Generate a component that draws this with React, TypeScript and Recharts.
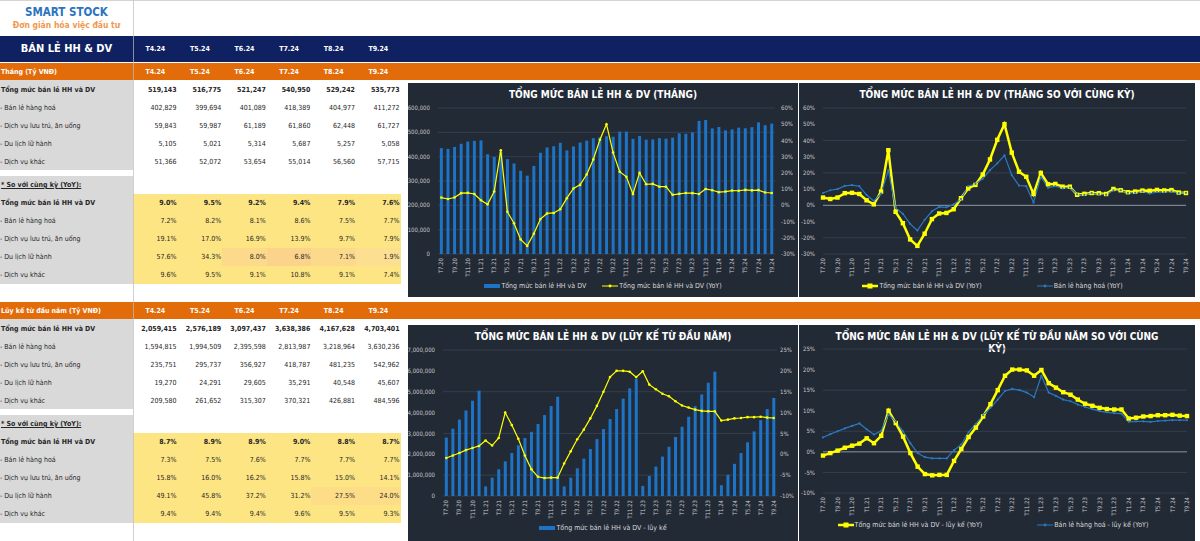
import React from 'react';
import {
  ComposedChart,
  LineChart,
  Bar,
  Line,
  XAxis,
  YAxis,
  CartesianGrid,
  Legend,
  ReferenceLine
} from 'recharts';

const FONT = "'DejaVu Sans Condensed', 'Liberation Sans', Arial, sans-serif";

// ---- chart data (T7.20 .. T9.24) ----
const months = [
  'T7.20', 'T8.20', 'T9.20', 'T10.20', 'T11.20', 'T12.20',
  'T1.21', 'T2.21', 'T3.21', 'T4.21', 'T5.21', 'T6.21', 'T7.21', 'T8.21', 'T9.21', 'T10.21', 'T11.21', 'T12.21',
  'T1.22', 'T2.22', 'T3.22', 'T4.22', 'T5.22', 'T6.22', 'T7.22', 'T8.22', 'T9.22', 'T10.22', 'T11.22', 'T12.22',
  'T1.23', 'T2.23', 'T3.23', 'T4.23', 'T5.23', 'T6.23', 'T7.23', 'T8.23', 'T9.23', 'T10.23', 'T11.23', 'T12.23',
  'T1.24', 'T2.24', 'T3.24', 'T4.24', 'T5.24', 'T6.24', 'T7.24', 'T8.24', 'T9.24'
];

const monthlyTotal = [
  435000, 432000, 440000, 453000, 462000, 465000,
  467000, 410000, 399000, 420000, 390000, 372000, 342000, 322000, 362000, 416000, 438000, 443000,
  457000, 426000, 442000, 458000, 466000, 476000, 480000, 484000, 482000, 503000, 503000, 473000,
  485000, 470000, 471000, 476000, 474000, 478000, 496000, 494000, 500000, 547000, 551000, 516000,
  522000, 508000, 512000, 519143, 516775, 521247, 540950, 529242, 535773
];

const monthlyTotalYoY = [
  4.8, 3.9, 4.8, 7.5, 7.7, 7.0,
  3.1, 0.6, 8.5, 34.0, -4.0, -11.0, -21.0, -25.0, -17.5, -8.5, -5.0, -4.7,
  -2.4, 4.4, 10.4, 12.6, 19.0, 28.3, 40.4, 50.0, 32.5, 20.7, 17.6, 7.0,
  20.0, 13.0, 13.2, 11.5, 11.5, 6.5, 7.1, 7.6, 7.5, 7.0, 10.1, 9.3,
  8.1, 8.5, 9.1, 9.0, 9.5, 9.2, 9.4, 7.9, 7.6
];

const monthlyGoodsYoY = [
  7.6, 9.3, 10.0, 12.0, 12.5, 11.8,
  6.4, 2.7, 7.2, 21.7, -1.7, -5.2, -11.4, -15.5, -8.9, -3.7, -1.0, -1.2,
  0.6, 3.9, 11.8, 13.2, 16.4, 21.7, 25.9, 30.8, 18.6, 12.2, 11.8, 1.7,
  17.6, 10.8, 11.8, 10.4, 11.0, 6.8, 6.4, 7.5, 7.0, 6.6, 9.3, 9.3,
  7.7, 7.7, 8.5, 7.2, 8.2, 8.1, 8.6, 7.5, 7.7
];

const ytdTotal = [
  2800000, 3230000, 3660000, 4100000, 4570000, 5050000,
  460000, 880000, 1280000, 1660000, 2060000, 2430000, 2780000, 3080000, 3450000, 3880000, 4310000, 4760000,
  460000, 880000, 1330000, 1790000, 2250000, 2730000, 3210000, 3690000, 4170000, 4670000, 5160000, 5610000,
  485000, 960000, 1410000, 1890000, 2360000, 2830000, 3320000, 3800000, 4310000, 4870000, 5430000, 5960000,
  520000, 1020000, 1540000, 2059415, 2576189, 3097437, 3638386, 4167628, 4703401
];

const ytdTotalYoY = [
  -0.9, -0.3, 0.3, 1.0, 1.5, 2.0,
  3.3, 2.1, 3.9, 10.0, 7.0, 3.7, -0.3, -3.6, -5.4, -5.7, -5.6, -5.6,
  -2.2, 0.7, 3.6, 5.9, 8.6, 11.6, 15.0, 18.5, 20.0, 20.0, 19.8, 18.5,
  19.9, 16.7, 15.6, 14.5, 13.9, 12.7, 11.7, 11.2, 10.7, 10.4, 10.3, 10.3,
  8.1, 8.3, 8.6, 8.7, 8.9, 8.9, 9.0, 8.8, 8.7
];

const ytdGoodsYoY = [
  3.5, 4.3, 5.0, 5.7, 6.3, 6.9,
  5.5, 4.2, 5.1, 9.2, 7.3, 5.0, 2.1, -0.3, -1.3, -1.6, -1.6, -1.6,
  0.4, 1.8, 4.8, 6.8, 8.9, 10.7, 12.7, 14.8, 15.3, 15.0, 14.4, 13.3,
  18.5, 14.4, 13.6, 12.7, 12.3, 11.5, 10.9, 10.4, 9.9, 9.6, 9.4, 9.3,
  7.3, 7.4, 7.4, 7.3, 7.5, 7.6, 7.7, 7.7, 7.7
];

// ---- table data ----
const tableCols = ['T4.24', 'T5.24', 'T6.24', 'T7.24', 'T8.24', 'T9.24'];
const rowLabels = [
  'Tổng mức bán lẻ HH và DV',
  '- Bán lẻ hàng hoá',
  '- Dịch vụ lưu trú, ăn uống',
  '- Du lịch lữ hành',
  '- Dịch vụ khác'
];

const monthValues = [
  [519143, 516775, 521247, 540950, 529242, 535773],
  [402829, 399694, 401089, 418389, 404977, 411272],
  [59843, 59987, 61189, 61860, 62448, 61727],
  [5105, 5021, 5314, 5687, 5257, 5058],
  [51366, 52072, 53654, 55014, 56560, 57715]
];
const monthYoY = [
  [9.0, 9.5, 9.2, 9.4, 7.9, 7.6],
  [7.2, 8.2, 8.1, 8.6, 7.5, 7.7],
  [19.1, 17.0, 16.9, 13.9, 9.7, 7.9],
  [57.6, 34.3, 8.0, 6.8, 7.1, 1.9],
  [9.6, 9.5, 9.1, 10.8, 9.1, 7.4]
];
const ytdValues = [
  [2059415, 2576189, 3097437, 3638386, 4167628, 4703401],
  [1594815, 1994509, 2395598, 2813987, 3218964, 3630236],
  [235751, 295737, 356927, 418787, 481235, 542962],
  [19270, 24291, 29605, 35291, 40548, 45607],
  [209580, 261652, 315307, 370321, 426881, 484596]
];
const ytdYoY = [
  [8.7, 8.9, 8.9, 9.0, 8.8, 8.7],
  [7.3, 7.5, 7.6, 7.7, 7.7, 7.7],
  [15.8, 16.0, 16.2, 15.8, 15.0, 14.1],
  [49.1, 45.8, 37.2, 31.2, 27.5, 24.0],
  [9.4, 9.4, 9.4, 9.6, 9.5, 9.3]
];

const monthlyData = months.map((m, i) => ({
  month: m,
  total: monthlyTotal[i],
  yoy: monthlyTotalYoY[i],
  goodsYoy: monthlyGoodsYoY[i]
}));

const ytdData = months.map((m, i) => ({
  month: m,
  total: ytdTotal[i],
  yoy: ytdTotalYoY[i],
  goodsYoy: ytdGoodsYoY[i]
}));

// ---- styles ----
const NAVY = '#0f2161';
const ORANGE = '#e36c0a';
const GRAY = '#d9d9d9';
const YELLOW = '#fde584';
const CHART_BG = '#222a36';
const BAR_BLUE = '#1d74c6';
const LINE_BLUE = '#2b78c2';
const LINE_YELLOW = '#ffff00';
const GRID = '#3a4351';
const TICK = { fill: '#c8c8c8', fontSize: 6, fontFamily: FONT };

const COL_LEFT = 133;
const COL_W = 44.6;

// conditional-format tint for a few YoY cells (row 3 = du lịch)
const heatColor = (block: string, row: number, col: number) => {
  if (row !== 3) return YELLOW;
  if (block === 'month') {
    if (col === 3) return '#fbd38b';
    if (col === 2 || col === 4) return '#fcd98b';
    if (col === 5) return '#fcdf90';
  } else if (col >= 4) {
    return '#fddd88';
  }
  return YELLOW;
};

const fmtNum = (v: number) => v.toLocaleString('en-US');
const fmtPct = (v: number) => `${v.toFixed(1)}%`;

const abs = (left: number, top: number, width: number, height: number, extra: React.CSSProperties = {}): React.CSSProperties => ({
  position: 'absolute', left, top, width, height, ...extra
});

const TextAt = ({ left, cy, width, align = 'left', bold = false, color = '#262626', size = 7, children, underline = false }: any) => (
  <div style={{
    position: 'absolute', left, top: cy - 6, width, height: 12, lineHeight: '12px',
    textAlign: align, fontWeight: bold ? 700 : 400, color, fontSize: size, whiteSpace: 'nowrap',
    textDecoration: underline ? 'underline' : 'none', fontFamily: FONT
  }}>{children}</div>
);

const ColHeaders = ({ cy }: { cy: number }) => (
  <>
    {tableCols.map((c, i) => (
      <TextAt key={c} left={COL_LEFT + COL_W * i} cy={cy} width={COL_W} align="center" bold color="#fff">{c}</TextAt>
    ))}
  </>
);

const Block = ({ top, title, values, yoy, block }: any) => {
  const hdrH = 17;
  return (
    <>
      <div style={abs(0, top, 1200, hdrH, { background: ORANGE })} />
      <TextAt left={1} cy={top + 8.5} width={130} bold color="#fff">{title}</TextAt>
      <ColHeaders cy={top + 8.5} />
      <div style={abs(0, top + hdrH, COL_LEFT, 90, { background: GRAY })} />
      {rowLabels.map((lab, r) => (
        <React.Fragment key={lab}>
          <TextAt left={r === 0 ? 1 : 0} cy={top + 26.5 + 18 * r} width={132} bold={r === 0}>{lab}</TextAt>
          {values[r].map((v: number, c: number) => (
            <TextAt key={c} left={COL_LEFT + COL_W * c} cy={top + 26.5 + 18 * r} width={COL_W - 1} align="right" bold={r === 0}>{fmtNum(v)}</TextAt>
          ))}
        </React.Fragment>
      ))}
      <div style={abs(0, top + 113, COL_LEFT, 108, { background: GRAY })} />
      <TextAt left={1} cy={top + 122} width={130} bold underline>* So với cùng kỳ (YoY):</TextAt>
      {rowLabels.map((lab, r) => (
        <React.Fragment key={'y' + lab}>
          {yoy[r].map((v: number, c: number) => (
            <div key={c} style={abs(COL_LEFT + COL_W * c, top + 131 + 18 * r, COL_W + 0.5, 18, { background: heatColor(block, r, c) })} />
          ))}
          <TextAt left={r === 0 ? 1 : 0} cy={top + 140 + 18 * r} width={132} bold={r === 0}>{lab}</TextAt>
          {yoy[r].map((v: number, c: number) => (
            <TextAt key={c} left={COL_LEFT + COL_W * c} cy={top + 140 + 18 * r} width={COL_W - 1} align="right" bold={r === 0}>{fmtPct(v)}</TextAt>
          ))}
        </React.Fragment>
      ))}
    </>
  );
};

// ---- chart helpers ----
const MonthTick = ({ x, y, payload }: any) => (
  <text
    x={x}
    y={y}
    transform={`rotate(-90 ${x} ${y})`}
    textAnchor="end"
    dy="0.35em"
    fill="#c8c8c8"
    fontSize={6}
    fontFamily={FONT}
  >
    {payload.value}
  </text>
);

const SquareDot = (props: any) => {
  const { cx, cy, index } = props;
  if (cx == null || cy == null) return <g key={index} />;
  return <rect key={index} x={cx - 2.2} y={cy - 2.2} width={4.4} height={4.4} fill={LINE_YELLOW} />;
};

type LegendItem = { label: string; kind: 'bar' | 'thin' | 'thick' | 'blue' };

const Marker = ({ kind }: { kind: LegendItem['kind'] }) => {
  if (kind === 'bar') {
    return <span style={{ display: 'inline-block', width: 16, height: 4, background: BAR_BLUE, marginRight: 1 }} />;
  }
  const color = kind === 'blue' ? LINE_BLUE : LINE_YELLOW;
  const sw = kind === 'thick' ? 2.5 : 1;
  return (
    <svg width={16} height={8} style={{ marginRight: 1 }}>
      <line x1={0} y1={4} x2={16} y2={4} stroke={color} strokeWidth={sw} />
      {kind === 'thick'
        ? <rect x={5.5} y={1.5} width={5} height={5} fill={color} />
        : <circle cx={8} cy={4} r={1.4} fill={color} />}
    </svg>
  );
};

const LegendBox = ({ items, gap }: { items: LegendItem[]; gap: number }) => (
  <div style={{
    display: 'flex', justifyContent: 'center', alignItems: 'center', gap, height: 14,
    fontFamily: FONT, fontSize: 7, color: '#d9d9d9', whiteSpace: 'nowrap'
  }}>
    {items.map((it) => (
      <span key={it.label} style={{ display: 'inline-flex', alignItems: 'center' }}>
        <Marker kind={it.kind} />
        {it.label}
      </span>
    ))}
  </div>
);

const ChartBox = ({ left, top, width, height, title, children }: any) => (
  <div style={abs(left, top, width, height, { background: CHART_BG, overflow: 'hidden' })}>
    <div style={{
      position: 'absolute', left: 0, top: 6, width: '100%', textAlign: 'center',
      color: '#fff', fontWeight: 700, fontSize: 10, lineHeight: '12px', fontFamily: FONT
    }}>
      {title}
    </div>
    <div style={{ position: 'absolute', left: 0, top: 0 }}>{children}</div>
  </div>
);

const pctTick = (v: number) => `${v}%`;

export default function App() {
  return (
    <div style={{
      position: 'absolute', left: 0, top: 0, width: 1200, height: 541, overflow: 'hidden',
      background: '#fff', fontFamily: FONT
    }}>
      <div style={abs(0, 0, 1200, 1, { background: '#d4d4d4' })} />

      {/* logo */}
      <div style={{ position: 'absolute', left: 0, top: 5, width: 133, textAlign: 'center', color: '#2c74c0', fontWeight: 700, fontSize: 11.5, fontFamily: FONT }}>
        SMART STOCK
      </div>
      <div style={{ position: 'absolute', left: 0, top: 20, width: 133, textAlign: 'center', color: '#f0984f', fontWeight: 700, fontSize: 8.5, fontFamily: FONT }}>
        Đơn giản hóa việc đầu tư
      </div>

      {/* navy header */}
      <div style={abs(0, 36, 1200, 26, { background: NAVY })} />
      <TextAt left={0} cy={49} width={133} align="center" bold color="#fff" size={11}>BÁN LẺ HH &amp; DV</TextAt>
      <ColHeaders cy={49} />

      <Block top={63} title="Tháng (Tỷ VNĐ)" values={monthValues} yoy={monthYoY} block="month" />
      <Block top={302} title="Lũy kế từ đầu năm (Tỷ VNĐ)" values={ytdValues} yoy={ytdYoY} block="ytd" />

      <div style={abs(133, 0, 1, 541, { background: 'rgba(190,190,190,0.7)' })} />

      {/* chart 1: monthly */}
      <ChartBox left={408} top={83} width={390} height={214} title="TỔNG MỨC BÁN LẺ HH & DV (THÁNG)">
        <ComposedChart width={390} height={214} data={monthlyData} margin={{ top: 25, right: 0, bottom: 4, left: 0 }} barCategoryGap="28%">
          <CartesianGrid yAxisId="left" vertical={false} stroke={GRID} strokeWidth={0.8} />
          <XAxis dataKey="month" interval={1} tick={<MonthTick />} tickLine={false} axisLine={false} height={25} tickSize={0} tickMargin={4} />
          <YAxis yAxisId="left" domain={[0, 600000]} ticks={[0, 100000, 200000, 300000, 400000, 500000, 600000]} width={30}
            tickFormatter={fmtNum} tick={TICK} axisLine={false} tickLine={false} />
          <YAxis yAxisId="right" orientation="right" domain={[-30, 60]} ticks={[-30, -20, -10, 0, 10, 20, 30, 40, 50, 60]} width={23}
            tickFormatter={pctTick} tick={TICK} axisLine={false} tickLine={false} tickSize={2} tickMargin={4} />
          <Bar yAxisId="left" dataKey="total" name="Tổng mức bán lẻ HH và DV" fill={BAR_BLUE} isAnimationActive={false} />
          <Line yAxisId="right" dataKey="yoy" name="Tổng mức bán lẻ HH và DV (YoY)" stroke={LINE_YELLOW} strokeWidth={1.2}
            dot={{ r: 1.3, fill: LINE_YELLOW, stroke: 'none' }} isAnimationActive={false} />
          <Legend verticalAlign="bottom" height={14}
            content={() => <LegendBox gap={16} items={[
              { label: 'Tổng mức bán lẻ HH và DV', kind: 'bar' },
              { label: 'Tổng mức bán lẻ HH và DV (YoY)', kind: 'thin' }
            ]} />} />
        </ComposedChart>
      </ChartBox>

      {/* chart 2: monthly YoY */}
      <ChartBox left={799} top={83} width={396} height={214} title="TỔNG MỨC BÁN LẺ HH & DV (THÁNG SO VỚI CÙNG KỲ)">
        <LineChart width={396} height={214} data={monthlyData} margin={{ top: 25, right: 9, bottom: 4, left: 0 }}>
          <CartesianGrid vertical={false} stroke={GRID} strokeWidth={0.8} />
          <XAxis dataKey="month" interval={1} tick={<MonthTick />} tickLine={false} axisLine={false} height={25} tickSize={0} tickMargin={4} />
          <YAxis domain={[-30, 60]} ticks={[-30, -20, -10, 0, 10, 20, 30, 40, 50, 60]} width={24}
            tickFormatter={pctTick} tick={TICK} axisLine={false} tickLine={false} />
          <ReferenceLine y={0} stroke="#8d939c" strokeWidth={1} />
          <Line dataKey="yoy" name="Tổng mức bán lẻ HH và DV (YoY)" stroke={LINE_YELLOW} strokeWidth={2.5}
            dot={SquareDot} isAnimationActive={false} />
          <Line dataKey="goodsYoy" name="Bán lẻ hàng hoá (YoY)" stroke={LINE_BLUE} strokeWidth={1.2}
            dot={{ r: 1.1, fill: LINE_BLUE, stroke: 'none' }} isAnimationActive={false} />
          <Legend verticalAlign="bottom" height={14}
            content={() => <LegendBox gap={55} items={[
              { label: 'Tổng mức bán lẻ HH và DV (YoY)', kind: 'thick' },
              { label: 'Bán lẻ hàng hoá (YoY)', kind: 'blue' }
            ]} />} />
        </LineChart>
      </ChartBox>

      {/* chart 3: year to date */}
      <ChartBox left={408} top={325} width={390} height={216} title="TỔNG MỨC BÁN LẺ HH & DV (LŨY KẾ TỪ ĐẦU NĂM)">
        <ComposedChart width={390} height={216} data={ytdData} margin={{ top: 25, right: 0, bottom: 6, left: 0 }} barCategoryGap="28%">
          <CartesianGrid yAxisId="left" vertical={false} stroke={GRID} strokeWidth={0.8} />
          <XAxis dataKey="month" interval={1} tick={<MonthTick />} tickLine={false} axisLine={false} height={25} tickSize={0} tickMargin={4} />
          <YAxis yAxisId="left" domain={[0, 7000000]} ticks={[0, 1000000, 2000000, 3000000, 4000000, 5000000, 6000000, 7000000]} width={35}
            tickFormatter={fmtNum} tick={TICK} axisLine={false} tickLine={false} />
          <YAxis yAxisId="right" orientation="right" domain={[-10, 25]} ticks={[-10, -5, 0, 5, 10, 15, 20, 25]} width={21}
            tickFormatter={pctTick} tick={TICK} axisLine={false} tickLine={false} tickSize={0} tickMargin={3} />
          <Bar yAxisId="left" dataKey="total" name="Tổng mức bán lẻ HH và DV - lũy kế" fill={BAR_BLUE} isAnimationActive={false} />
          <Line yAxisId="right" dataKey="yoy" name="Tổng mức bán lẻ HH và DV - lũy kế (YoY)" stroke={LINE_YELLOW} strokeWidth={1.2}
            dot={{ r: 1.3, fill: LINE_YELLOW, stroke: 'none' }} isAnimationActive={false} />
          <Legend verticalAlign="bottom" height={14}
            content={() => <LegendBox gap={16} items={[
              { label: 'Tổng mức bán lẻ HH và DV - lũy kế', kind: 'bar' }
            ]} />} />
        </ComposedChart>
      </ChartBox>

      {/* chart 4: year to date YoY */}
      <ChartBox left={799} top={325} width={396} height={216}
        title={<>TỔNG MỨC BÁN LẺ HH &amp; DV (LŨY KẾ TỪ ĐẦU NĂM SO VỚI CÙNG<br />KỲ)</>}>
        <LineChart width={396} height={216} data={ytdData} margin={{ top: 24, right: 8, bottom: 9, left: 0 }}>
          <CartesianGrid vertical={false} stroke={GRID} strokeWidth={0.8} />
          <XAxis dataKey="month" interval={1} tick={<MonthTick />} tickLine={false} axisLine={false} height={25} tickSize={0} tickMargin={4} />
          <YAxis domain={[-10, 25]} ticks={[-10, -5, 0, 5, 10, 15, 20, 25]} width={24}
            tickFormatter={pctTick} tick={TICK} axisLine={false} tickLine={false} />
          <ReferenceLine y={0} stroke="#8d939c" strokeWidth={1} />
          <Line dataKey="yoy" name="Tổng mức bán lẻ HH và DV - lũy kế (YoY)" stroke={LINE_YELLOW} strokeWidth={2.5}
            dot={SquareDot} isAnimationActive={false} />
          <Line dataKey="goodsYoy" name="Bán lẻ hàng hoá - lũy kế (YoY)" stroke={LINE_BLUE} strokeWidth={1.2}
            dot={{ r: 1.1, fill: LINE_BLUE, stroke: 'none' }} isAnimationActive={false} />
          <Legend verticalAlign="bottom" height={14}
            content={() => <LegendBox gap={55} items={[
              { label: 'Tổng mức bán lẻ HH và DV - lũy kế (YoY)', kind: 'thick' },
              { label: 'Bán lẻ hàng hoá - lũy kế (YoY)', kind: 'blue' }
            ]} />} />
        </LineChart>
      </ChartBox>
    </div>
  );
}
